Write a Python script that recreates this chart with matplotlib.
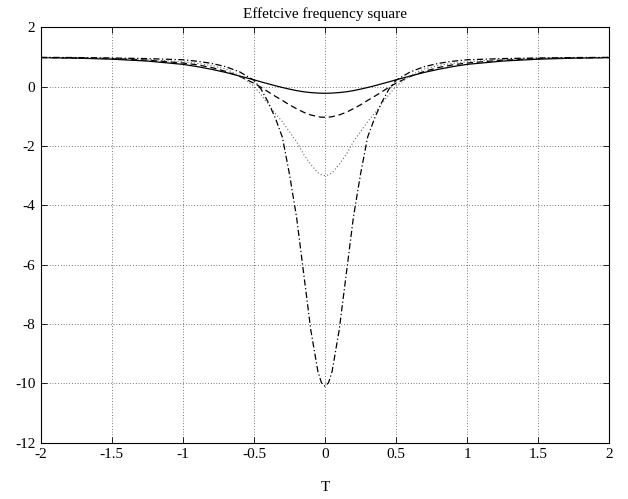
import matplotlib
matplotlib.use("Agg")
import matplotlib.pyplot as plt

plt.rcParams['font.family'] = ['Liberation Serif', 'DejaVu Serif']
plt.rcParams['axes.unicode_minus'] = False

T = [-2.0, -1.75, -1.5, -1.25, -1.0, -0.9, -0.8, -0.7, -0.6, -0.5, -0.45, -0.4, -0.35,
     -0.3, -0.25, -0.2, -0.15, -0.1, -0.05, -0.025, 0.0, 0.025, 0.05, 0.1, 0.15, 0.2,
     0.25, 0.3, 0.35, 0.4, 0.45, 0.5, 0.6, 0.7, 0.8, 0.9, 1.0, 1.25, 1.5, 1.75, 2.0]

solid = [0.983, 0.965, 0.93, 0.866, 0.755, 0.68, 0.59, 0.485, 0.36, 0.235, 0.165, 0.10,
         0.035, -0.025, -0.08, -0.13, -0.17, -0.196, -0.213, -0.218, -0.22, -0.218, -0.213,
         -0.196, -0.17, -0.13, -0.08, -0.025, 0.035, 0.10, 0.165, 0.235, 0.36, 0.485, 0.59,
         0.68, 0.755, 0.866, 0.93, 0.965, 0.983]

dashed = [0.985, 0.97, 0.95, 0.90, 0.80, 0.74, 0.65, 0.52, 0.35, 0.12, -0.02, -0.17,
          -0.32, -0.46, -0.61, -0.74, -0.86, -0.95, -1.01, -1.025, -1.03, -1.025, -1.01,
          -0.95, -0.86, -0.74, -0.61, -0.46, -0.32, -0.17, -0.02, 0.12, 0.35, 0.52, 0.65,
          0.74, 0.80, 0.90, 0.95, 0.97, 0.985]

dotted = [0.99, 0.98, 0.96, 0.92, 0.84, 0.79, 0.72, 0.60, 0.38, 0.02, -0.27, -0.57,
          -0.90, -1.18, -1.52, -1.85, -2.28, -2.62, -2.90, -2.97, -3.0, -2.97, -2.90,
          -2.62, -2.28, -1.85, -1.52, -1.18, -0.90, -0.57, -0.27, 0.02, 0.38, 0.60, 0.72,
          0.79, 0.84, 0.92, 0.96, 0.98, 0.99]

dashdot = [0.99, 0.985, 0.97, 0.95, 0.91, 0.86, 0.79, 0.68, 0.50, 0.22, -0.08, -0.52,
           -1.05, -1.70, -2.95, -4.40, -6.30, -8.20, -9.60, -9.98, -10.1, -9.98, -9.60,
           -8.20, -6.30, -4.40, -2.95, -1.70, -1.05, -0.52, -0.08, 0.22, 0.50, 0.68, 0.79,
           0.86, 0.91, 0.95, 0.97, 0.985, 0.99]

xticks = [-2, -1.5, -1, -0.5, 0, 0.5, 1, 1.5, 2]
xticklabels = ['-2', '-1.5', '-1', '-0.5', '0', '0.5', '1', '1.5', '2']
yticks = [-12, -10, -8, -6, -4, -2, 0, 2]
yticklabels = ['-12', '-10', '-8', '-6', '-4', '-2', '0', '2']

fig = plt.figure(figsize=(6.28, 4.99), dpi=100)
ax = fig.add_axes([0.065, 0.113, 0.905, 0.832])

ax.plot(T, solid, color='black', linestyle='-', linewidth=0.9)
ax.plot(T, dashed, color='black', linestyle=(0, (5, 3)), linewidth=0.9)
ax.plot(T, dotted, color='#666666', linestyle=(0, (1, 2)), linewidth=0.8)
ax.plot(T, dashdot, color='black', linestyle=(0, (5, 2, 1, 2)), linewidth=0.9)

ax.set_xlim(-2, 2)
ax.set_ylim(-12, 2)
ax.set_xticks(xticks)
ax.set_xticklabels(xticklabels)
ax.set_yticks(yticks)
ax.set_yticklabels(yticklabels)
ax.grid(True, color='black', linestyle=(0, (1, 3)), linewidth=0.5)
ax.tick_params(direction='in', top=True, right=True, length=4, width=0.6,
               labelsize=11, pad=4)
for s in ax.spines.values():
    s.set_linewidth(0.8)

ax.set_title('Effetcive frequency square', fontsize=11, pad=7)
ax.set_xlabel('T', fontsize=11, labelpad=14)

fig.savefig('out.png', dpi=100)
